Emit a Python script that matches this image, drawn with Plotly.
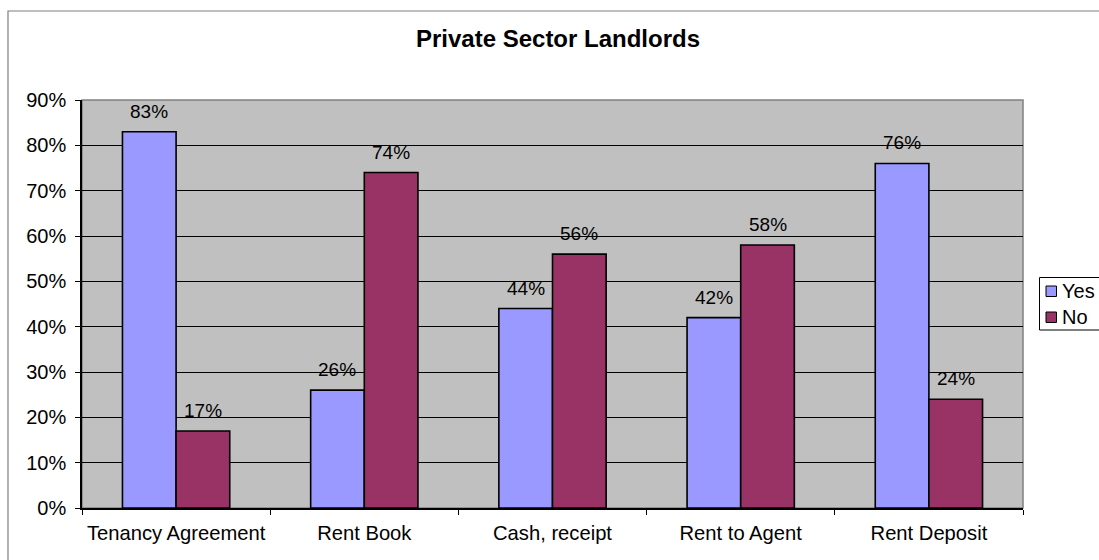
import plotly.graph_objects as go

# Survey results: share of private sector landlords answering Yes / No
categories = ["Tenancy Agreement", "Rent Book", "Cash, receipt", "Rent to Agent", "Rent Deposit"]
series_names = ["Yes", "No"]
yes_values = [0.83, 0.26, 0.44, 0.42, 0.76]
no_values = [0.17, 0.74, 0.56, 0.58, 0.24]
y_tick_values = [0, 0.1, 0.2, 0.3, 0.4, 0.5, 0.6, 0.7, 0.8, 0.9]
y_tick_labels = ["0%", "10%", "20%", "30%", "40%", "50%", "60%", "70%", "80%", "90%"]

colors = {"Yes": "#9999FF", "No": "#993366"}
FONT = "Liberation Sans, Arial, sans-serif"

W, H = 1099, 560
M_L, M_R, M_T, M_B = 82, W - 1023, 100, H - 508
PW, PH = W - M_L - M_R, H - M_T - M_B


def px_x(x):
    """Pixel x -> paper x."""
    return (x - M_L) / PW


def px_y(y):
    """Pixel y -> paper y."""
    return (H - M_B - y) / PH


BARGAP = 0.43
half_bar = (1 - BARGAP) / 4  # centre offset of each bar inside its group

fig = go.Figure()
for name, vals in zip(series_names, [yes_values, no_values]):
    fig.add_trace(go.Bar(
        name=name, x=categories, y=vals,
        marker=dict(color=colors[name], line=dict(color="black", width=1.6)),
        showlegend=False,
    ))

# value labels above each bar
annotations = []
for s, (name, vals) in enumerate(zip(series_names, [yes_values, no_values])):
    offset = -half_bar if s == 0 else half_bar
    for i, v in enumerate(vals):
        annotations.append(dict(
            x=i + offset, y=v, xref="x", yref="y",
            text=f"{round(v * 100)}%", showarrow=False,
            yanchor="bottom", xanchor="center", yshift=8,
            font=dict(family=FONT, size=19, color="black"),
        ))

shapes = [
    # outer chart frame
    dict(type="rect", xref="paper", yref="paper",
         x0=px_x(8), x1=px_x(W + 10), y0=px_y(H + 10), y1=px_y(11),
         line=dict(color="#7f7f7f", width=1.2), fillcolor="rgba(0,0,0,0)"),
    # plot area border
    dict(type="rect", xref="paper", yref="paper", x0=0, x1=1, y0=0, y1=1,
         line=dict(color="#808080", width=1.5), fillcolor="rgba(0,0,0,0)", layer="below"),
    # legend frame
    dict(type="rect", xref="paper", yref="paper",
         x0=px_x(1039.5), x1=px_x(W + 10), y0=px_y(330), y1=px_y(277.5),
         line=dict(color="black", width=1), fillcolor="white"),
]
# legend entries: colour swatch plus series name
legend_rows = [291, 317]
for name, yc in zip(series_names, legend_rows):
    shapes.append(dict(type="rect", xref="paper", yref="paper",
                       x0=px_x(1046), x1=px_x(1056.5), y0=px_y(yc + 5.5), y1=px_y(yc - 5),
                       line=dict(color="black", width=1), fillcolor=colors[name]))
    annotations.append(dict(x=px_x(1060), y=px_y(yc), xref="paper", yref="paper",
                            text=name, showarrow=False, xanchor="left", yanchor="middle",
                            font=dict(family=FONT, size=20, color="black")))

fig.update_layout(
    width=W, height=H,
    margin=dict(l=M_L, r=M_R, t=M_T, b=M_B, pad=0),
    paper_bgcolor="white", plot_bgcolor="#C0C0C0",
    barmode="group", bargap=BARGAP, bargroupgap=0,
    title=dict(text="<b>Private Sector Landlords</b>", xref="container", yref="container",
               x=558 / W, y=1 - 39 / H, xanchor="center", yanchor="middle",
               font=dict(family=FONT, size=24, color="black")),
    font=dict(family=FONT, size=19, color="black"),
    xaxis=dict(
        type="category", tickson="boundaries", ticks="outside", ticklen=5,
        tickcolor="black", tickwidth=1, showline=True, linecolor="black", linewidth=1.5,
        showgrid=False, tickfont=dict(family=FONT, size=20.2, color="black"),
        ticklabelstandoff=6, fixedrange=True,
    ),
    yaxis=dict(
        range=[0, 0.9], tickvals=y_tick_values, ticktext=y_tick_labels,
        ticks="outside", ticklen=5, tickcolor="black", tickwidth=1,
        showline=True, linecolor="black", linewidth=1.5,
        showgrid=True, gridcolor="black", gridwidth=1, zeroline=False,
        tickfont=dict(family=FONT, size=20, color="black"),
        ticklabelstandoff=5, fixedrange=True,
    ),
    shapes=shapes, annotations=annotations, showlegend=False,
)

fig.write_html("out.html", config={"displayModeBar": False})
